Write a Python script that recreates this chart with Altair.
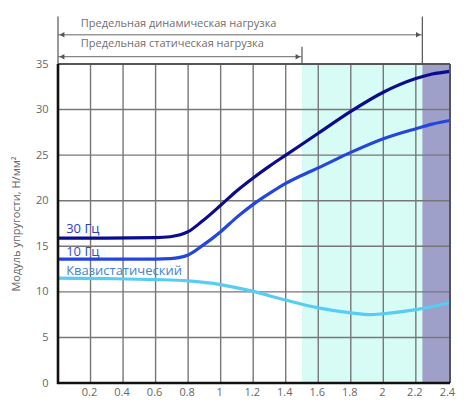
import altair as alt
import pandas as pd

# ---- data ----
x_30 = [0.0, 0.3, 0.6, 0.69, 0.8, 0.89, 1.0, 1.1, 1.2, 1.3, 1.4, 1.5, 1.6, 1.8, 2.0, 2.2, 2.3, 2.41]
y_30 = [15.9, 15.9, 15.95, 16.05, 16.6, 17.8, 19.5, 21.1, 22.5, 23.8, 25.0, 26.2, 27.4, 29.8, 31.9, 33.4, 33.9, 34.2]

x_10 = [0.0, 0.3, 0.6, 0.69, 0.8, 0.89, 1.0, 1.1, 1.2, 1.3, 1.4, 1.5, 1.6, 1.8, 2.0, 2.2, 2.3, 2.41]
y_10 = [13.6, 13.6, 13.6, 13.65, 14.05, 15.1, 16.6, 18.2, 19.6, 20.8, 21.9, 22.8, 23.6, 25.3, 26.8, 27.9, 28.4, 28.8]

x_q = [0.0, 0.3, 0.6, 0.8, 1.0, 1.2, 1.4, 1.6, 1.8, 1.92, 2.0, 2.2, 2.41]
y_q = [11.5, 11.45, 11.35, 11.2, 10.8, 10.05, 9.1, 8.25, 7.7, 7.5, 7.6, 8.05, 8.8]

series_names = ["30 Гц", "10 Гц", "Квазистатический"]
series_colors = ["#0b0b8e", "#2446dc", "#58cdf4"]
label_colors = ["#2a40c0", "#2a50d8", "#4384d4"]
label_x = [0.05, 0.05, 0.05]
label_y = [16.95, 14.35, 12.3]

x_ticks = [0.2, 0.4, 0.6, 0.8, 1.0, 1.2, 1.4, 1.6, 1.8, 2.0, 2.2, 2.4]
x_tick_labels = ["0.2", "0.4", "0.6", "0.8", "1", "1.2", "1.4", "1.6", "1.8", "2", "2.2", "2.4"]
y_ticks = [0, 5, 10, 15, 20, 25, 30, 35]

static_limit = 1.5
dynamic_limit = 2.24
x_max = 2.41
y_max = 35

ann_texts = ["Предельная динамическая нагрузка", "Предельная статическая нагрузка"]
ann_text_x = [0.14, 0.14]
ann_text_y = [39.4, 37.2]
ann_arrow_x_end = [dynamic_limit, static_limit]
ann_arrow_y = [38.2, 35.8]
ann_vline_x = [0.0, static_limit, dynamic_limit]
ann_vline_top = [40.2, 36.9, 40.2]

# ---- tables ----
rows = []
for name, xs_, ys_ in zip(series_names, [x_30, x_10, x_q], [y_30, y_10, y_q]):
    for a, b in zip(xs_, ys_):
        rows.append({"x": a, "y": b, "s": name})
curves = pd.DataFrame(rows)

labels = pd.DataFrame({"x": label_x, "y": label_y, "t": series_names, "c": label_colors})
bands = pd.DataFrame({"x": [static_limit, dynamic_limit], "x2": [dynamic_limit, x_max],
                      "c": ["#d7fcf5", "#9ea0c9"]})
ann_t = pd.DataFrame({"x": ann_text_x, "y": ann_text_y, "t": ann_texts})
ann_a = pd.DataFrame({"x": [0.0, 0.0], "x2": ann_arrow_x_end, "y": ann_arrow_y})
ann_v = pd.DataFrame({"x": ann_vline_x, "y": [y_max] * 3, "y2": ann_vline_top})
heads_l = pd.DataFrame({"x": [0.0, 0.0], "y": ann_arrow_y})
heads_r = pd.DataFrame({"x": ann_arrow_x_end, "y": ann_arrow_y})
grid_x = pd.DataFrame({"x": x_ticks[:-1]})
grid_y = pd.DataFrame({"y": y_ticks[1:-1]})
xlab = pd.DataFrame({"x": x_ticks, "t": x_tick_labels})

FONT = "Open Sans"
xs = alt.Scale(domain=[0, x_max], nice=False, zero=False)
ys = alt.Scale(domain=[0, y_max], nice=False, zero=False)

band_layer = alt.Chart(bands).mark_rect().encode(
    x=alt.X("x:Q", scale=xs, axis=None),
    x2="x2:Q",
    y=alt.value(0), y2=alt.value(319),
    color=alt.Color("c:N", scale=None),
)

gx = alt.Chart(grid_x).mark_rule(color="#777777", strokeWidth=1.4).encode(
    x=alt.X("x:Q", scale=xs, axis=None), y=alt.value(0), y2=alt.value(319))
gy = alt.Chart(grid_y).mark_rule(color="#777777", strokeWidth=1.4).encode(
    y=alt.Y("y:Q", scale=ys, axis=alt.Axis(values=y_ticks, title="Модуль упругости, Н/мм²",
                                            grid=False, domain=False, ticks=False,
                                            labelColor="#666666", labelFontSize=11, labelFont=FONT,
                                            labelPadding=10, titleColor="#666666", titleFontSize=11,
                                            titleFont=FONT, titleFontWeight="normal", titlePadding=14)),
    x=alt.value(0), x2=alt.value(392))

xlabels = alt.Chart(xlab).mark_text(fontSize=11, font=FONT, color="#666666", baseline="middle",
                                    align="center", clip=False, dx=-1).encode(
    x=alt.X("x:Q", scale=xs, axis=None), y=alt.value(329), text="t:N")

lines = alt.Chart(curves).mark_line(strokeWidth=3.2, interpolate="monotone").encode(
    x=alt.X("x:Q", scale=xs, axis=None), y=alt.Y("y:Q", scale=ys),
    color=alt.Color("s:N", scale=alt.Scale(domain=series_names, range=series_colors), legend=None),
)

txt = alt.Chart(labels).mark_text(align="left", baseline="middle", fontSize=13, font=FONT).encode(
    x=alt.X("x:Q", scale=xs, axis=None), y=alt.Y("y:Q", scale=ys), text="t:N",
    color=alt.Color("c:N", scale=None))

frame_top = alt.Chart(pd.DataFrame({"y": [y_max]})).mark_rule(color="#555555", strokeWidth=2).encode(
    y=alt.Y("y:Q", scale=ys), x=alt.value(0), x2=alt.value(392))
frame_right = alt.Chart(pd.DataFrame({"x": [x_max]})).mark_rule(color="#555555", strokeWidth=2).encode(
    x=alt.X("x:Q", scale=xs, axis=None), y=alt.value(0), y2=alt.value(319))
frame_left = alt.Chart(pd.DataFrame({"x": [0.0]})).mark_rule(color="#111111", strokeWidth=2.6).encode(
    x=alt.X("x:Q", scale=xs, axis=None), y=alt.value(0), y2=alt.value(320))
frame_bottom = alt.Chart(pd.DataFrame({"y": [0.0]})).mark_rule(color="#111111", strokeWidth=2.6).encode(
    y=alt.Y("y:Q", scale=ys), x=alt.value(-1), x2=alt.value(392))

ann_text = alt.Chart(ann_t).mark_text(align="left", baseline="middle", fontSize=11, font=FONT,
                                      color="#6f6f6f", clip=False).encode(
    x=alt.X("x:Q", scale=xs, axis=None), y=alt.Y("y:Q", scale=ys), text="t:N")
ann_arrow = alt.Chart(ann_a).mark_rule(color="#666666", strokeWidth=1, clip=False).encode(
    x=alt.X("x:Q", scale=xs, axis=None), x2="x2:Q", y=alt.Y("y:Q", scale=ys))
ann_vert = alt.Chart(ann_v).mark_rule(color="#555555", strokeWidth=1.2, clip=False).encode(
    x=alt.X("x:Q", scale=xs, axis=None), y=alt.Y("y:Q", scale=ys), y2="y2:Q")
hl = alt.Chart(heads_l).mark_point(shape="triangle-left", filled=True, size=30, color="#555555",
                                   opacity=1, clip=False, xOffset=4).encode(
    x=alt.X("x:Q", scale=xs, axis=None), y=alt.Y("y:Q", scale=ys))
hr = alt.Chart(heads_r).mark_point(shape="triangle-right", filled=True, size=30, color="#555555",
                                   opacity=1, clip=False, xOffset=-4).encode(
    x=alt.X("x:Q", scale=xs, axis=None), y=alt.Y("y:Q", scale=ys))

chart = alt.layer(
    band_layer, gx, gy, lines, txt, frame_top, frame_right, frame_left, frame_bottom,
    ann_vert, ann_arrow, hl, hr, ann_text, xlabels
).properties(
    width=392, height=319,
    autosize=alt.AutoSizeParams(type="none"),
    padding={"left": 50, "top": 56, "right": 12, "bottom": 30},
).configure_view(stroke=None)

chart.save("out.html", embed_options={"renderer": "svg", "actions": False})
